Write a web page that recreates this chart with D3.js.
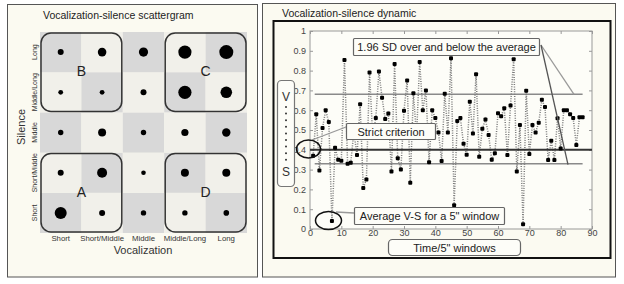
<!DOCTYPE html>
<html>
<head>
<meta charset="utf-8">
<script src="https://cdn.jsdelivr.net/npm/d3@7"></script>
<style>
  body { margin: 0; background: #fff; }
  text { font-family: "Liberation Sans", Arial, sans-serif; }
</style>
</head>
<body>
<div id="chart"></div>
<script>
// ---- scattergram data ----
const vocalCats = ["Short", "Short/Middle", "Middle", "Middle/Long", "Long"];
const silenceCats = ["Short", "Short/Middle", "Middle", "Middle/Long", "Long"];
// dot size per cell, one row per silence category (Short first), one column per vocalization category
const dotSize = [
    [6.0, 3.0, 2.7, 2.7, 2.8],
    [3.0, 5.0, 2.3, 4.0, 4.0],
    [2.7, 4.0, 2.7, 3.6, 4.2],
    [2.4, 2.4, 3.0, 6.6, 5.8],
    [3.0, 4.3, 4.6, 6.6, 7.0]
];
const groupLabels = ["A", "B", "C", "D"];
const groupVocal = [["Short", "Short/Middle"], ["Short", "Short/Middle"], ["Middle/Long", "Long"], ["Middle/Long", "Long"]];
const groupSilence = [["Short", "Short/Middle"], ["Middle/Long", "Long"], ["Middle/Long", "Long"], ["Short", "Short/Middle"]];

// ---- dynamic data ----
const windowIndex = d3.range(1, 88);
const vsValues = [
    0.37, 0.58, 0.295, 0.51, 0.60, 0.54, 0.04, 0.41, 0.35, 0.345,
    0.853, 0.33, 0.335, 0.49, 0.374, 0.63, 0.207, 0.25, 0.79, 0.47,
    0.56, 0.795, 0.663, 0.555, 0.583, 0.29, 0.833, 0.357, 0.30, 0.597,
    0.75, 0.234, 0.686, 0.47, 0.843, 0.60, 0.70, 0.337, 0.60, 0.56,
    0.488, 0.343, 0.683, 0.488, 0.862, 0.12, 0.545, 0.56, 0.43, 0.375,
    0.643, 0.482, 0.782, 0.365, 0.506, 0.553, 0.475, 0.35, 0.383, 0.585,
    0.57, 0.61, 0.374, 0.624, 0.857, 0.29, 0.525, 0.024, 0.698, 0.379,
    0.525, 0.488, 0.537, 0.653, 0.616, 0.348, 0.446, 0.348, 0.559, 0.407,
    0.60, 0.60, 0.58, 0.56, 0.424, 0.564, 0.564
];
const averageVS = 0.40;
const upperBand = 0.68;
const lowerBand = 0.33;
const xTicks = [0, 10, 20, 30, 40, 50, 60, 70, 80, 90];
const yTicks = [0, 0.1, 0.2, 0.3, 0.4, 0.5, 0.6, 0.7, 0.8, 0.9, 1];

const svg = d3.select("#chart").append("svg")
    .attr("width", 624)
    .attr("height", 284);

// ================= left panel =================
svg.append("rect")
    .attr("x", 7.5).attr("y", 4.5)
    .attr("width", 250).attr("height", 272.5)
    .attr("fill", "#fbfaf1")
    .attr("stroke", "#555");

svg.append("text")
    .attr("x", 43).attr("y", 19)
    .style("font-size", "10.5px")
    .style("fill", "#222")
    .text("Vocalization-silence scattergram");

const gx = d3.scaleBand().domain(vocalCats).range([40, 247]);
const gy = d3.scaleBand().domain(silenceCats.slice().reverse()).range([32, 233]);
const rScale = d3.scaleLinear().domain([0, 7]).range([0, 7]);

const cells = [];
silenceCats.forEach((s, i) => {
    vocalCats.forEach((v, j) => {
        cells.push({ s, v, size: dotSize[i][j], shade: (4 - i + j) % 2 === 0 });
    });
});

const grid = svg.append("g");
grid.selectAll("rect")
    .data(cells)
    .enter().append("rect")
    .attr("x", d => gx(d.v))
    .attr("y", d => gy(d.s))
    .attr("width", gx.bandwidth())
    .attr("height", gy.bandwidth())
    .attr("fill", d => d.shade ? "#d8d8d8" : "#f1f0ea");

grid.selectAll("circle")
    .data(cells)
    .enter().append("circle")
    .attr("cx", d => gx(d.v) + gx.bandwidth() / 2)
    .attr("cy", d => gy(d.s) + gy.bandwidth() / 2)
    .attr("r", d => rScale(d.size))
    .attr("fill", "#000");

groupLabels.forEach((label, k) => {
    const x0 = gx(groupVocal[k][0]), x1 = gx(groupVocal[k][1]) + gx.bandwidth();
    const y0 = gy(groupSilence[k][1]), y1 = gy(groupSilence[k][0]) + gy.bandwidth();
    svg.append("rect")
        .attr("x", x0 + 1).attr("y", y0 + 1)
        .attr("width", x1 - x0 - 2).attr("height", y1 - y0 - 2)
        .attr("rx", 10)
        .attr("fill", "none")
        .attr("stroke", "#333")
        .attr("stroke-width", 1.5);
    svg.append("text")
        .attr("x", (x0 + x1) / 2)
        .attr("y", (y0 + y1) / 2 + 4)
        .attr("text-anchor", "middle")
        .style("font-size", "14px")
        .style("fill", "#222")
        .text(label);
});

// category labels
svg.append("g").selectAll("text")
    .data(vocalCats)
    .enter().append("text")
    .attr("x", d => gx(d) + gx.bandwidth() / 2)
    .attr("y", 241)
    .attr("text-anchor", "middle")
    .style("font-size", "7.8px")
    .style("fill", "#333")
    .text(d => d);

svg.append("g").selectAll("text")
    .data(silenceCats)
    .enter().append("text")
    .attr("transform", d => `translate(37,${gy(d) + gy.bandwidth() / 2}) rotate(-90)`)
    .attr("text-anchor", "middle")
    .style("font-size", "7px")
    .style("fill", "#333")
    .text(d => d);

svg.append("text")
    .attr("x", 143).attr("y", 253.5)
    .attr("text-anchor", "middle")
    .style("font-size", "11px")
    .style("fill", "#333")
    .text("Vocalization");

svg.append("text")
    .attr("transform", "translate(25,127) rotate(-90)")
    .attr("text-anchor", "middle")
    .style("font-size", "11px")
    .style("fill", "#333")
    .text("Silence");

// ================= right panel =================
svg.append("rect")
    .attr("x", 262.5).attr("y", 3.5)
    .attr("width", 353).attr("height", 273.5)
    .attr("fill", "#fbfaf1")
    .attr("stroke", "#555");

svg.append("text")
    .attr("x", 282).attr("y", 17)
    .style("font-size", "10.5px")
    .style("fill", "#222")
    .text("Vocalization-silence dynamic");

svg.append("rect")
    .attr("x", 273.5).attr("y", 21)
    .attr("width", 337).attr("height", 237)
    .attr("fill", "none")
    .attr("stroke", "#111")
    .attr("stroke-width", 2);

const x = d3.scaleLinear().domain([0, 90]).range([310, 592]);
const y = d3.scaleLinear().domain([0, 1]).range([229, 31]);

svg.append("rect")
    .attr("x", x(0)).attr("y", y(1))
    .attr("width", x(90) - x(0)).attr("height", y(0) - y(1))
    .attr("fill", "#fdfdf8")
    .attr("stroke", "#999");

const axisStyle = g => {
    g.select(".domain").remove();
    g.selectAll(".tick line").attr("stroke", "#999");
    g.selectAll(".tick text")
        .style("font-family", "'Liberation Sans', Arial, sans-serif")
        .style("font-size", "9px")
        .style("fill", "#444");
};

svg.append("g")
    .attr("transform", `translate(0,${y(0)})`)
    .call(d3.axisBottom(x).tickValues(xTicks).tickSize(-3).tickPadding(1).tickFormat(d3.format("d")))
    .call(axisStyle);
svg.append("g")
    .attr("transform", `translate(0,${y(1)})`)
    .call(d3.axisTop(x).tickValues(xTicks).tickSize(-3).tickFormat(""))
    .call(axisStyle);
svg.append("g")
    .attr("transform", `translate(${x(0)},0)`)
    .call(d3.axisLeft(y).tickValues(yTicks).tickSize(-3).tickPadding(4).tickFormat(d3.format("~g")))
    .call(axisStyle);
svg.append("g")
    .attr("transform", `translate(${x(90)},0)`)
    .call(d3.axisRight(y).tickValues(yTicks).tickSize(-3).tickFormat(""))
    .call(axisStyle);

// reference lines
svg.append("line")
    .attr("x1", x(1.5)).attr("x2", x(87))
    .attr("y1", y(upperBand)).attr("y2", y(upperBand))
    .attr("stroke", "#8a8a8a").attr("stroke-width", 1.5);
svg.append("line")
    .attr("x1", x(1.5)).attr("x2", x(87))
    .attr("y1", y(lowerBand)).attr("y2", y(lowerBand))
    .attr("stroke", "#8a8a8a").attr("stroke-width", 1.5);

// series
const series = windowIndex.map((w, i) => ({ w, v: vsValues[i] }));
const line = d3.line().x(d => x(d.w)).y(d => y(d.v));

svg.append("path")
    .datum(series)
    .attr("d", line)
    .attr("fill", "none")
    .attr("stroke", "#7a7a7a")
    .attr("stroke-width", 1.5)
    .attr("stroke-dasharray", "1,1.4");

svg.append("line")
    .attr("x1", x(0)).attr("x2", x(90))
    .attr("y1", y(averageVS)).attr("y2", y(averageVS))
    .attr("stroke", "#333").attr("stroke-width", 2);

svg.append("g").selectAll("rect")
    .data(series)
    .enter().append("rect")
    .attr("x", d => x(d.w) - 2)
    .attr("y", d => y(d.v) - 2)
    .attr("width", 4)
    .attr("height", 4)
    .attr("rx", 1)
    .attr("fill", "#000");

// callouts
svg.append("line")
    .attr("x1", 541).attr("y1", 45).attr("x2", 574).attr("y2", y(upperBand))
    .attr("stroke", "#999").attr("stroke-width", 1.3);
svg.append("line")
    .attr("x1", 541).attr("y1", 45).attr("x2", 568).attr("y2", y(lowerBand) + 1)
    .attr("stroke", "#555").attr("stroke-width", 1.3);
svg.append("line")
    .attr("x1", 346).attr("y1", 127).attr("x2", 312).attr("y2", 140)
    .attr("stroke", "#999").attr("stroke-width", 1.3);
svg.append("line")
    .attr("x1", 354).attr("y1", 213).attr("x2", 336).attr("y2", 212)
    .attr("stroke", "#999").attr("stroke-width", 1.3);

const callout = (x0, y0, w, h, label, rx) => {
    svg.append("rect")
        .attr("x", x0).attr("y", y0)
        .attr("width", w).attr("height", h)
        .attr("rx", rx)
        .attr("fill", "#fdfdf8")
        .attr("stroke", "#666")
        .attr("stroke-width", 1.2);
    svg.append("text")
        .attr("x", x0 + w / 2).attr("y", y0 + h / 2 + 4)
        .attr("text-anchor", "middle")
        .style("font-size", "11px")
        .style("fill", "#222")
        .text(label);
};
callout(353.5, 38.5, 186, 17, "1.96 SD over and below the average", 1);
callout(346.5, 123.5, 89, 16, "Strict criterion", 1);
callout(354.5, 207.5, 150, 17, "Average V-S for a 5\" window", 1);
callout(388.5, 239.5, 132, 16, "Time/5\" windows", 4);

svg.append("ellipse")
    .attr("cx", 308.5).attr("cy", 149)
    .attr("rx", 12).attr("ry", 9)
    .attr("fill", "none").attr("stroke", "#111").attr("stroke-width", 1.5);
svg.append("ellipse")
    .attr("cx", 328.5).attr("cy", 220.5)
    .attr("rx", 13).attr("ry", 9)
    .attr("fill", "none").attr("stroke", "#111").attr("stroke-width", 1.5);

// V ... S label box
svg.append("rect")
    .attr("x", 277.5).attr("y", 80.5)
    .attr("width", 17).attr("height", 106)
    .attr("rx", 4)
    .attr("fill", "#fdfdf8")
    .attr("stroke", "#777")
    .attr("stroke-width", 1.2);
svg.append("text")
    .attr("x", 286).attr("y", 101)
    .attr("text-anchor", "middle")
    .style("font-size", "12px").style("fill", "#333")
    .text("V");
svg.append("g").selectAll("circle")
    .data(d3.range(9))
    .enter().append("circle")
    .attr("cx", 286)
    .attr("cy", i => 107 + i * 6.6)
    .attr("r", 1)
    .attr("fill", "#333");
svg.append("text")
    .attr("x", 286).attr("y", 176)
    .attr("text-anchor", "middle")
    .style("font-size", "12px").style("fill", "#333")
    .text("S");
</script>
</body>
</html>
